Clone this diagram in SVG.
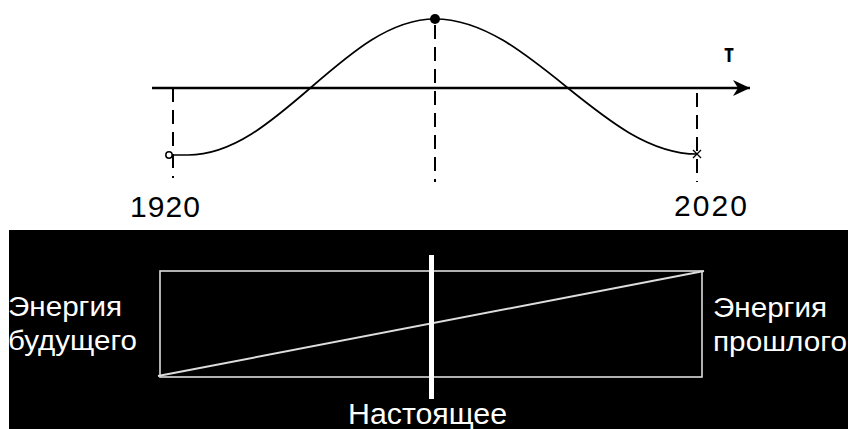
<svg xmlns="http://www.w3.org/2000/svg" width="848" height="429" viewBox="0 0 848 429">
<style>
.dash{stroke:#000;stroke-width:2;stroke-dasharray:14,8;fill:none}
.lbl{font-family:"Liberation Sans",Arial,sans-serif;fill:#000}
.wl{font-family:"Liberation Sans",Arial,sans-serif;fill:#fff}
</style>
<defs>
<marker id="arr" viewBox="0 0 18 18" refX="17" refY="9" markerWidth="18" markerHeight="18" markerUnits="userSpaceOnUse" orient="auto">
<path d="M0,1 L17,9 L0,17 L5,9 Z" fill="#000"/>
</marker>
</defs>
<rect width="848" height="429" fill="#fff"/>
<g id="connectors">
<line x1="152" y1="88" x2="750" y2="88" stroke="#000" stroke-width="2.5" marker-end="url(#arr)"/>
<line class="dash" x1="173" y1="88" x2="173" y2="178"/>
<line x1="173" y1="140" x2="173" y2="146" stroke="#000" stroke-width="2"/>
<line class="dash" x1="435" y1="25" x2="435" y2="182"/>
<line class="dash" x1="697" y1="93" x2="697" y2="182"/>
<path d="M172,155 L188,155 C278,155 345,19 435,19 C530,19 602,154 697,154" fill="none" stroke="#000" stroke-width="1.7"/>
</g>
<g id="start-marker"><circle cx="169" cy="155" r="3.2" fill="#fff" stroke="#000" stroke-width="1.5"/></g>
<g id="peak-marker"><circle cx="435" cy="19" r="5" fill="#000"/></g>
<g id="end-marker"><path d="M693,150 L701,158 M701,150 L693,158" stroke="#000" stroke-width="1.3"/></g>
<g id="axis-label"><text class="lbl" x="724" y="62" font-size="26" font-weight="bold" textLength="10" lengthAdjust="spacingAndGlyphs">т</text></g>
<g id="year-1920"><text class="lbl" x="130" y="217" font-size="30" textLength="70">1920</text></g>
<g id="year-2020"><text class="lbl" x="674" y="216" font-size="30" textLength="73">2020</text></g>
<g id="panel">
<rect x="9" y="230" width="839" height="199" fill="#000"/>
<rect x="160" y="271" width="542" height="106" fill="none" stroke="#ddd" stroke-width="1.6"/>
<line x1="158" y1="376" x2="704" y2="271" stroke="#ddd" stroke-width="2"/>
<rect x="429" y="255" width="5" height="144" fill="#fff"/>
</g>
<g id="future-energy">
<text class="wl" x="8" y="316" font-size="27" textLength="114" lengthAdjust="spacingAndGlyphs">Энергия</text>
<text class="wl" x="8" y="350" font-size="27" textLength="129" lengthAdjust="spacingAndGlyphs">будущего</text>
</g>
<g id="past-energy">
<text class="wl" x="713" y="317" font-size="27" textLength="114" lengthAdjust="spacingAndGlyphs">Энергия</text>
<text class="wl" x="713" y="351" font-size="27" textLength="134" lengthAdjust="spacingAndGlyphs">прошлого</text>
</g>
<g id="present"><text class="wl" x="348" y="424" font-size="30" textLength="159" lengthAdjust="spacingAndGlyphs">Настоящее</text></g>
</svg>
